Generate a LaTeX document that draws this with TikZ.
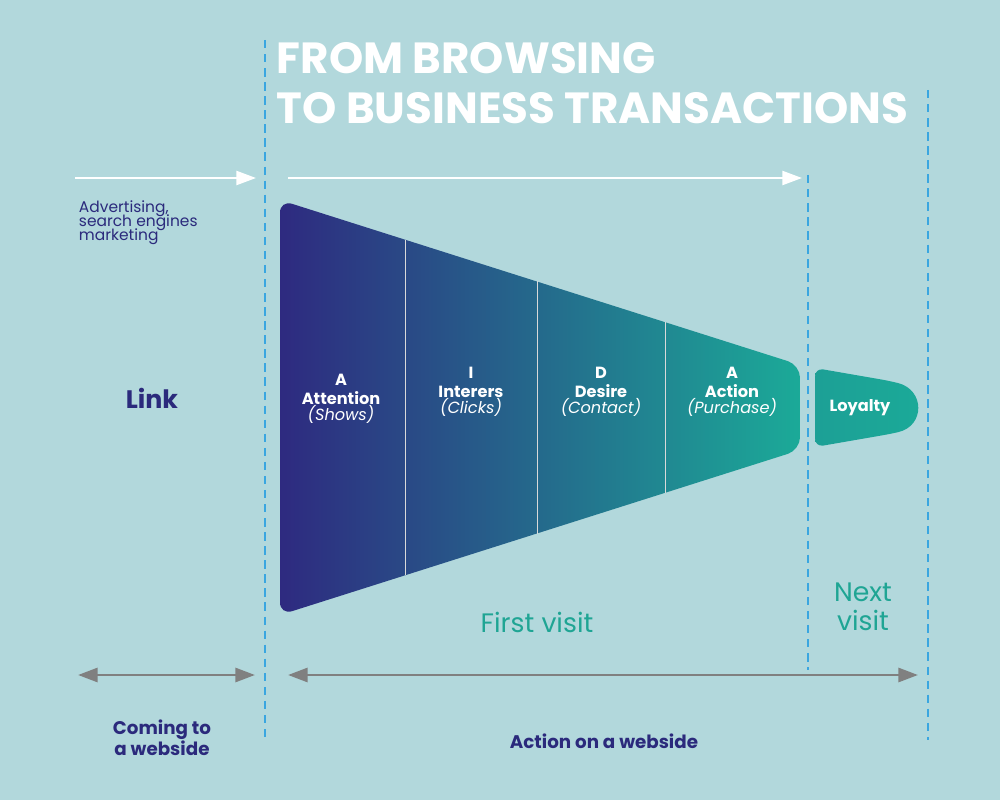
\documentclass[tikz,border=0pt]{standalone}
\usepackage{fontspec}
\setmainfont{Poppins}
\usetikzlibrary{arrows.meta}
\definecolor{bg}{HTML}{B2D8DC}
\definecolor{navy}{HTML}{2B2A7C}
\definecolor{fpurple}{HTML}{2E2A80}
\definecolor{fteal}{HTML}{1BAA98}
\definecolor{dashblue}{HTML}{3AA6E0}
\definecolor{tealtxt}{HTML}{1FA594}
\definecolor{arrgray}{HTML}{808080}
\tikzset{
 px/.style={x=0.025cm,y=-0.025cm},
 dline/.style={draw=dashblue, line width=1.3pt, dash pattern=on 6pt off 4pt},
 warr/.style={white, line width=1.5pt, -{Triangle[length=14pt,width=10pt]}},
 garr/.style={arrgray, line width=2pt, {Triangle[length=14pt,width=10pt]}-{Triangle[length=14pt,width=10pt]}},
 lab/.style={navy, font=\fontsize{11}{13}\selectfont, align=left, anchor=north west},
 stage/.style={white, font=\fontsize{11.5}{13.5}\selectfont\bfseries, align=center},
 bot/.style={navy, font=\fontsize{13}{15}\selectfont\bfseries, align=center},
 visit/.style={tealtxt, font=\fontsize{19}{21}\selectfont, align=center},
 divl/.style={white!70!gray, line width=0.7pt}
}
\begin{document}
\begin{tikzpicture}[px]
\fill[bg] (0,0) rectangle (1000,800);
\useasboundingbox (0,0) rectangle (1000,800);
% title
\node[white, anchor=west, font=\fontsize{31}{33}\selectfont\bfseries, align=left] (title) at (272,58) {FROM BROWSING};
\node[white, anchor=west, font=\fontsize{31}{33}\selectfont\bfseries, align=left] (title2) at (272,108) {TO BUSINESS TRANSACTIONS};
% dashed lines
\coordinate (d1a) at (265,40); \coordinate (d1b) at (265,740);
\coordinate (d2a) at (808,175); \coordinate (d2b) at (808,670);
\coordinate (d3a) at (928,90); \coordinate (d3b) at (928,740);
\draw[dline] (d1a) -- (d1b);
\draw[dline] (d2a) -- (d2b);
\draw[dline] (d3a) -- (d3b);
% white arrows
\coordinate (w1a) at (75,178); \coordinate (w1b) at (256,178);
\coordinate (w2a) at (288,178); \coordinate (w2b) at (802,178);
\draw[warr] (w1a) -- (w1b);
\draw[warr] (w2a) -- (w2b);
% funnel
\shade[left color=fpurple, right color=fteal, rounded corners=9pt]
 (280,200) -- (800,365) -- (800,450) -- (280,615) -- cycle;
\draw[divl] (405,239.7) -- (405,575.3);
\draw[divl] (537,281.5) -- (537,533.5);
\draw[divl] (665,322.2) -- (665,492.8);
% loyalty
\shade[left color=fteal!92!fpurple, right color=fteal, rounded corners=6pt]
 (815,368) -- (890,381) .. controls (925,390) and (925,426) .. (890,434) -- (815,447) -- cycle;
\node[stage] (loy) at (860,408) {Loyalty};
% stage labels
\node[stage] (s1) at (341,399) {A\\Attention\\[-2pt]\textmd{\itshape (Shows)}};
\node[stage] (s2) at (471,392) {I\\Interers\\[-2pt]\textmd{\itshape (Clicks)}};
\node[stage] (s3) at (601,392) {D\\Desire\\[-2pt]\textmd{\itshape (Contact)}};
\node[stage] (s4) at (732,392) {A\\Action\\[-2pt]\textmd{\itshape (Purchase)}};
% left labels
\node[lab] (adv) at (74,196) {Advertising,\\[-3pt]search engines\\[-3pt]marketing};
\node[navy, font=\fontsize{18}{20}\selectfont\bfseries] (link) at (152,398) {Link};
% visits
\node[visit] (fv) at (537,622) {First visit};
\node[visit] (nv) at (863,607) {Next\\visit};
% gray arrows
\coordinate (g1a) at (78,675); \coordinate (g1b) at (255,675);
\coordinate (g2a) at (288,675); \coordinate (g2b) at (918,675);
\draw[garr] (g1a) -- (g1b);
\draw[garr] (g2a) -- (g2b);
% bottom labels
\node[bot] (come) at (162,738) {Coming to\\a webside};
\node[bot] (act) at (604,741) {Action on a webside};
\end{tikzpicture}
\end{document}
